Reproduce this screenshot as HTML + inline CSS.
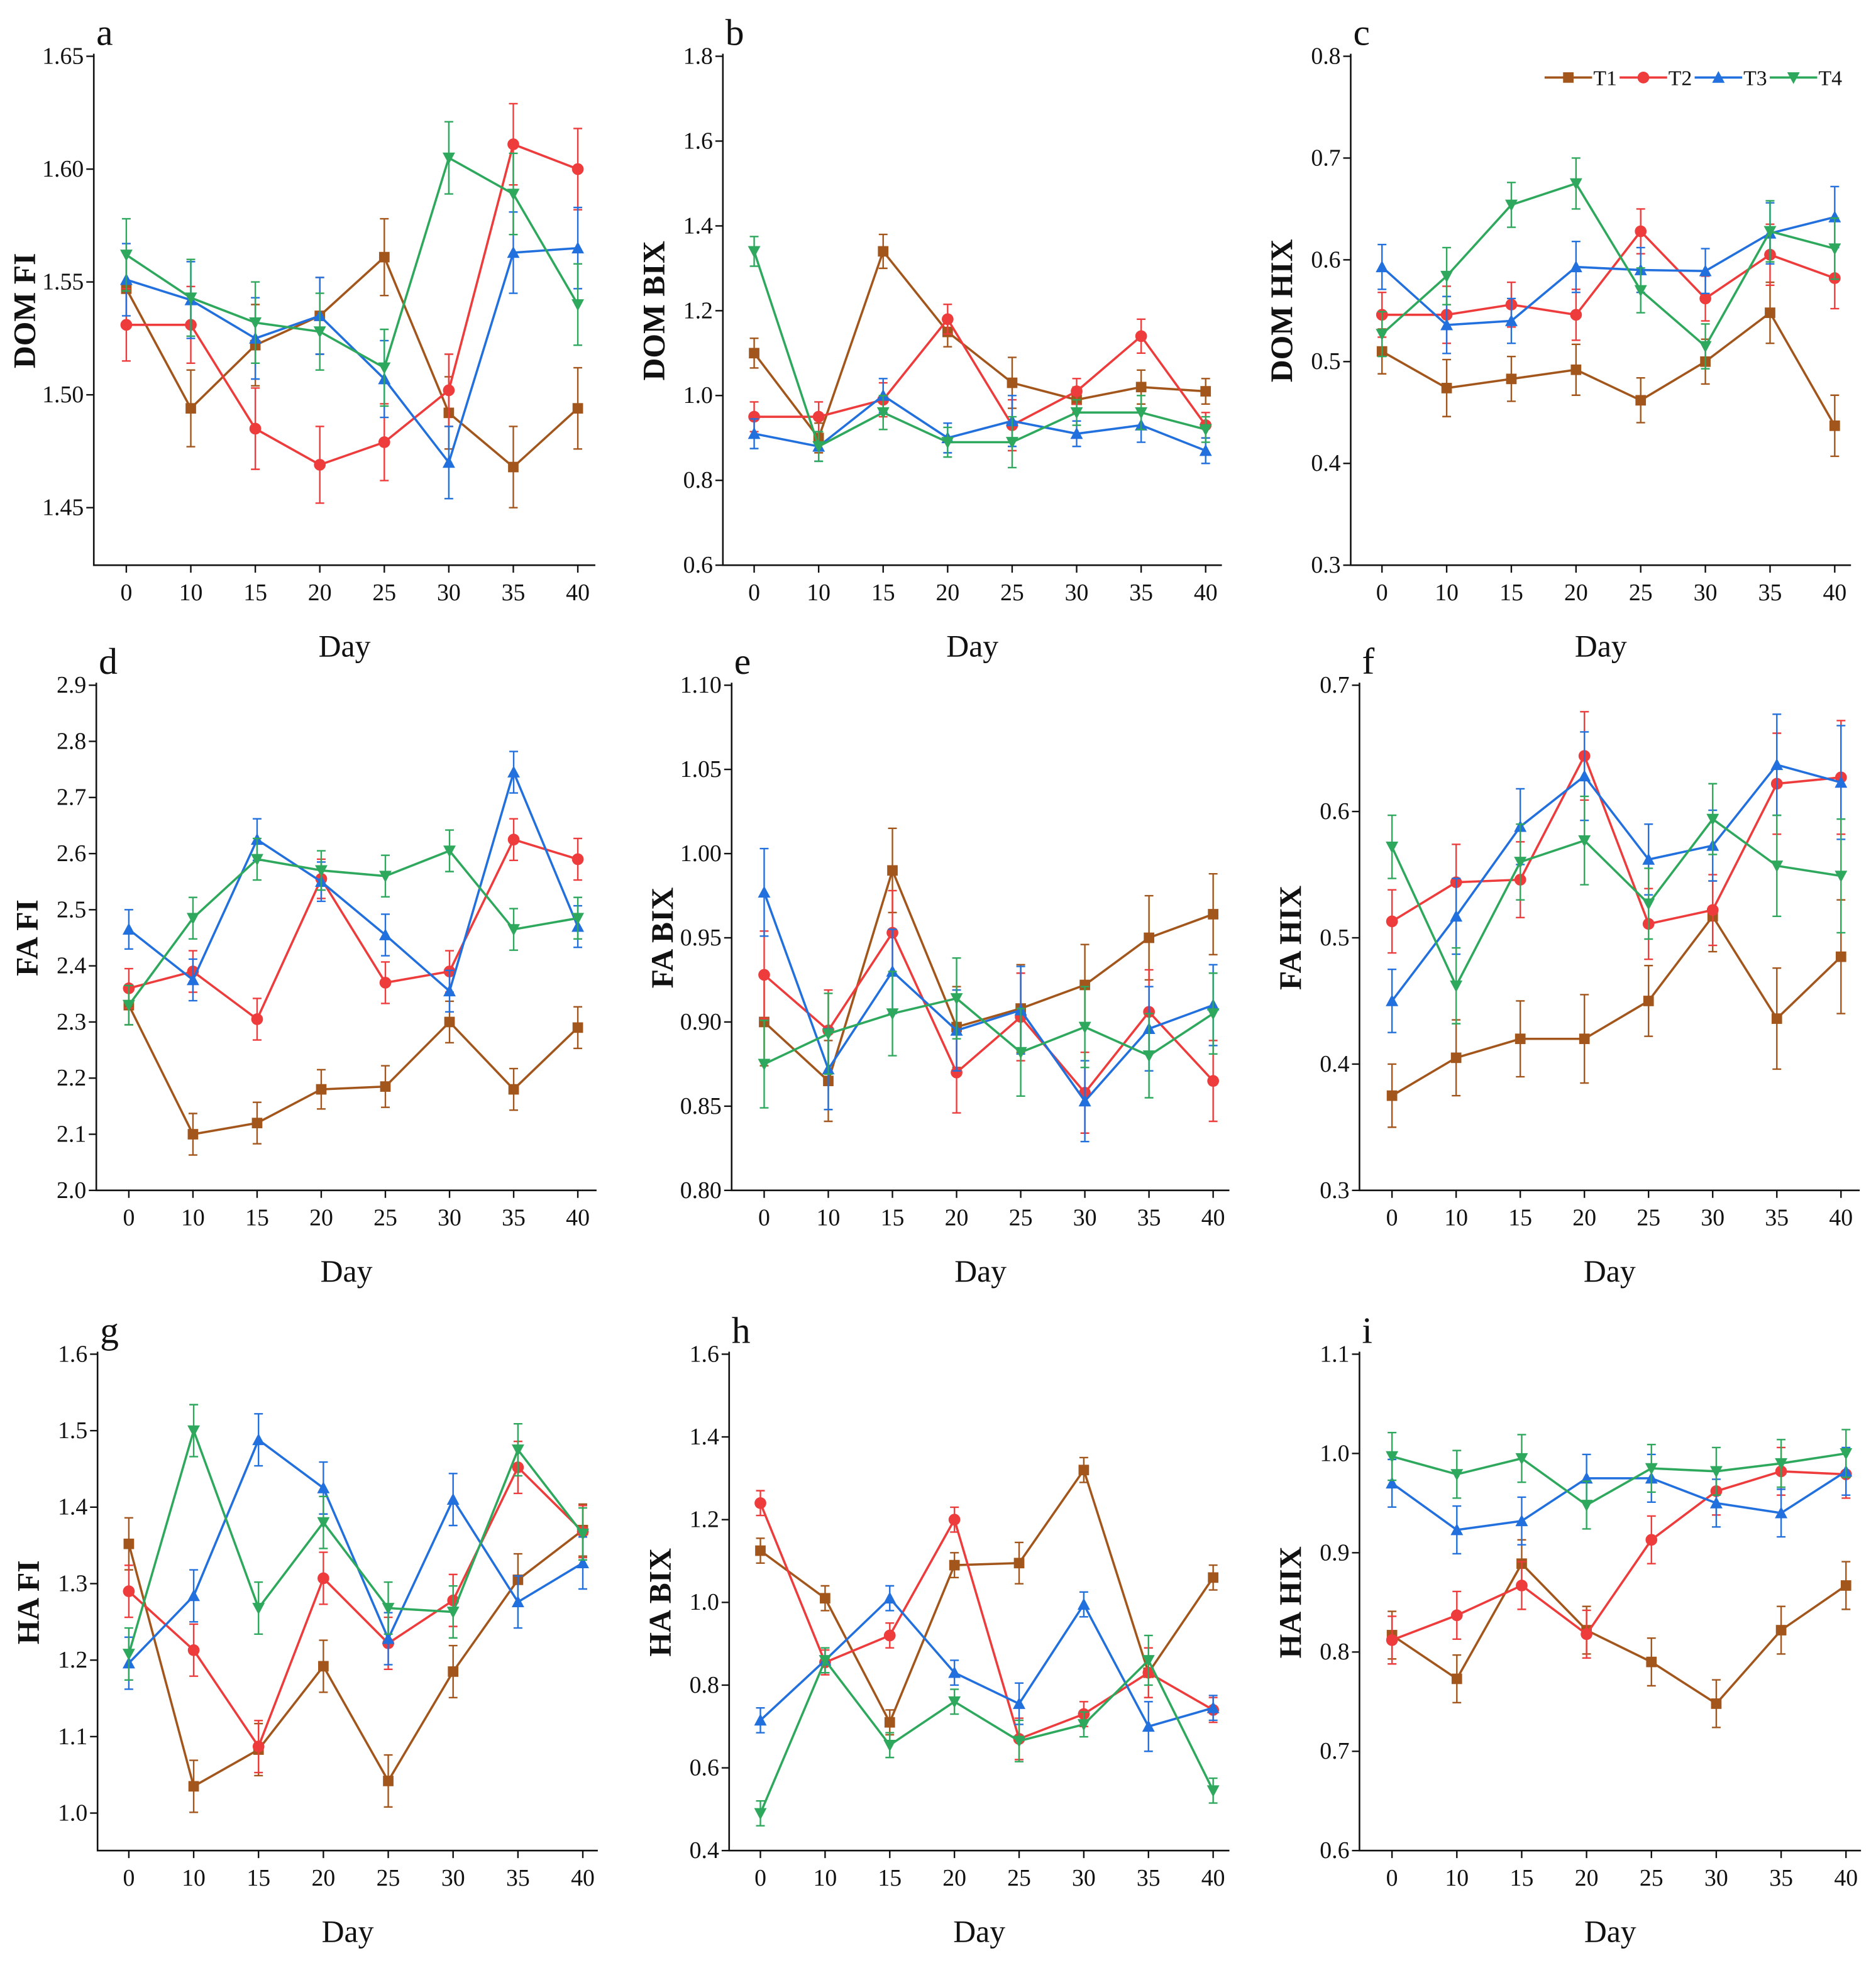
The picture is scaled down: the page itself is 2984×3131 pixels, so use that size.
<!DOCTYPE html>
<html><head><meta charset="utf-8"><style>
html,body{margin:0;padding:0;background:#fff}
svg{display:block}
text{font-family:"Liberation Serif",serif;fill:#111}
</style></head><body>
<svg id="fig" width="2984" height="3131" viewBox="0 0 1500 1573.9" preserveAspectRatio="none" xmlns="http://www.w3.org/2000/svg"></svg>
<script>
const days = ["0","10","15","20","25","30","35","40"];
const seriesNames = ["T1","T2","T3","T4"];
const colors = ["#A3561C","#EE3B3B","#2270DD","#2EA85C"];

const aT1=[1.547,1.494,1.522,1.535,1.561,1.492,1.468,1.494];
const aT2=[1.531,1.531,1.485,1.469,1.479,1.502,1.611,1.600];
const aT3=[1.551,1.542,1.525,1.535,1.507,1.470,1.563,1.565];
const aT4=[1.562,1.543,1.532,1.528,1.512,1.605,1.589,1.540];
const aErr=[0.016,0.017,0.018,0.017,0.017,0.016,0.018,0.018];

const bT1=[1.10,0.90,1.34,1.15,1.03,0.99,1.02,1.01];
const bT2=[0.95,0.95,0.99,1.18,0.93,1.01,1.14,0.93];
const bT3=[0.91,0.88,1.00,0.90,0.94,0.91,0.93,0.87];
const bT4=[1.34,0.88,0.96,0.89,0.89,0.96,0.96,0.92];
const bErr=[0.035,0.035,0.04,0.035,0.06,0.03,0.04,0.03];

const cT1=[0.510,0.474,0.483,0.492,0.462,0.500,0.548,0.437];
const cT2=[0.546,0.546,0.556,0.546,0.628,0.562,0.605,0.582];
const cT3=[0.593,0.536,0.540,0.593,0.590,0.589,0.626,0.642];
const cT4=[0.527,0.584,0.654,0.675,0.570,0.515,0.628,0.611];
const cErr=[0.022,0.028,0.022,0.025,0.022,0.022,0.03,0.03];

const dT1=[2.33,2.10,2.12,2.18,2.185,2.30,2.18,2.29];
const dT2=[2.36,2.39,2.305,2.555,2.37,2.39,2.625,2.59];
const dT3=[2.465,2.375,2.625,2.55,2.455,2.355,2.745,2.47];
const dT4=[2.33,2.485,2.59,2.57,2.56,2.605,2.465,2.485];
const dErr=[0.035,0.037,0.037,0.035,0.037,0.037,0.037,0.037];

const eT1=[0.900,0.865,0.990,0.897,0.908,0.922,0.950,0.964];
const eT2=[0.928,0.895,0.953,0.870,0.903,0.858,0.906,0.865];
const eT3=[0.977,0.872,0.930,0.895,0.907,0.853,0.896,0.910];
const eT4=[0.875,0.893,0.905,0.914,0.882,0.897,0.880,0.905];
const eErr=[0.026,0.024,0.025,0.024,0.026,0.024,0.025,0.024];

const fT1=[0.375,0.405,0.420,0.420,0.450,0.517,0.436,0.485];
const fT2=[0.513,0.544,0.546,0.644,0.511,0.522,0.622,0.627];
const fT3=[0.450,0.517,0.588,0.628,0.562,0.573,0.637,0.623];
const fT4=[0.572,0.462,0.560,0.577,0.527,0.594,0.557,0.549];
const fErr=[0.025,0.03,0.03,0.035,0.028,0.028,0.04,0.045];

const gT1=[1.352,1.035,1.083,1.192,1.042,1.185,1.305,1.370];
const gT2=[1.290,1.213,1.087,1.307,1.222,1.278,1.452,1.368];
const gT3=[1.196,1.284,1.488,1.425,1.228,1.410,1.276,1.327];
const gT4=[1.208,1.500,1.268,1.380,1.268,1.263,1.475,1.365];
const gErr=[0.034,0.034,0.034,0.034,0.034,0.034,0.034,0.034];

const hT1=[1.125,1.010,0.710,1.090,1.095,1.320,0.830,1.060];
const hT2=[1.240,0.855,0.920,1.200,0.670,0.730,0.830,0.740];
const hT3=[0.715,0.860,1.010,0.830,0.755,0.995,0.700,0.745];
const hT4=[0.490,0.860,0.655,0.760,0.665,0.705,0.860,0.545];
const hErr=[0.03,0.03,0.03,0.03,0.05,0.03,0.06,0.03];

const iT1=[0.817,0.773,0.889,0.822,0.790,0.748,0.822,0.867];
const iT2=[0.812,0.837,0.867,0.818,0.913,0.962,0.982,0.979];
const iT3=[0.970,0.923,0.932,0.975,0.975,0.950,0.940,0.982];
const iT4=[0.997,0.979,0.995,0.948,0.985,0.982,0.990,1.000];
const iErr=[0.024,0.024,0.024,0.024,0.024,0.024,0.024,0.024];

const yTicksA=["1.45","1.50","1.55","1.60","1.65"];
const yTicksB=["0.6","0.8","1.0","1.2","1.4","1.6","1.8"];
const yTicksC=["0.3","0.4","0.5","0.6","0.7","0.8"];
const yTicksD=["2.0","2.1","2.2","2.3","2.4","2.5","2.6","2.7","2.8","2.9"];
const yTicksE=["0.80","0.85","0.90","0.95","1.00","1.05","1.10"];
const yTicksF=["0.3","0.4","0.5","0.6","0.7"];
const yTicksG=["1.0","1.1","1.2","1.3","1.4","1.5","1.6"];
const yTicksH=["0.4","0.6","0.8","1.0","1.2","1.4","1.6"];
const yTicksI=["0.6","0.7","0.8","0.9","1.0","1.1"];

// layout (display units)
const panels=[
 {id:"a",yl:"DOM FI",L:75,R:476,vT:1.65,pT:45,vB:1.45,pB:406,bot:452,x0:101,x1:462,ticks:yTicksA,d:[aT1,aT2,aT3,aT4],e:aErr},
 {id:"b",yl:"DOM BIX",L:578,R:977,vT:1.8,pT:45,vB:0.6,pB:452,bot:452,x0:603,x1:964,ticks:yTicksB,d:[bT1,bT2,bT3,bT4],e:bErr},
 {id:"c",yl:"DOM HIX",L:1080,R:1480,vT:0.8,pT:45,vB:0.3,pB:452,bot:452,x0:1105,x1:1467,ticks:yTicksC,d:[cT1,cT2,cT3,cT4],e:cErr},
 {id:"d",yl:"FA FI",L:77,R:477,vT:2.9,pT:548,vB:2.0,pB:952,bot:952,x0:103,x1:462,ticks:yTicksD,d:[dT1,dT2,dT3,dT4],e:dErr},
 {id:"e",yl:"FA BIX",L:585,R:983,vT:1.10,pT:548,vB:0.80,pB:952,bot:952,x0:611,x1:970,ticks:yTicksE,d:[eT1,eT2,eT3,eT4],e:eErr},
 {id:"f",yl:"FA HIX",L:1087,R:1487,vT:0.7,pT:548,vB:0.3,pB:952,bot:952,x0:1113,x1:1472,ticks:yTicksF,d:[fT1,fT2,fT3,fT4],e:fErr},
 {id:"g",yl:"HA FI",L:78,R:478,vT:1.6,pT:1083,vB:1.0,pB:1450,bot:1480,x0:103,x1:466,ticks:yTicksG,d:[gT1,gT2,gT3,gT4],e:gErr},
 {id:"h",yl:"HA BIX",L:583,R:983,vT:1.6,pT:1083,vB:0.4,pB:1480,bot:1480,x0:608,x1:970,ticks:yTicksH,d:[hT1,hT2,hT3,hT4],e:hErr},
 {id:"i",yl:"HA HIX",L:1087,R:1488,vT:1.1,pT:1083,vB:0.6,pB:1480,bot:1480,x0:1113,x1:1476,ticks:yTicksI,d:[iT1,iT2,iT3,iT4],e:iErr}
];
const NS="http://www.w3.org/2000/svg";
const svg=document.getElementById("fig");
function mk(tag,attrs,parent){const el=document.createElementNS(NS,tag);for(const k in attrs)el.setAttribute(k,attrs[k]);(parent||svg).appendChild(el);return el;}
function marker(g,k,x,y,c){
 const s=4.2;
 if(k===0)return mk("rect",{x:x-s,y:y-s,width:2*s,height:2*s,fill:c},g);
 if(k===1)return mk("circle",{cx:x,cy:y,r:s+0.5,fill:c},g);
 if(k===2)return mk("polygon",{points:`${x},${y-s-1} ${x-s-0.8},${y+s} ${x+s+0.8},${y+s}`,fill:c},g);
 return mk("polygon",{points:`${x},${y+s+1} ${x-s-0.8},${y-s} ${x+s+0.8},${y-s}`,fill:c},g);
}
panels.forEach(p=>{
 const g=mk("g",{});
 
 
 const ys=v=>p.pT+(v-p.vT)/(p.vB-p.vT)*(p.pB-p.pT);
 const xs=i=>p.x0+i*(p.x1-p.x0)/(days.length-1);
 // axes
 const ax=mk("path",{d:`M${p.L},${p.pT-2}V${p.bot}H${p.R}`,stroke:"#111","stroke-width":1.3,fill:"none"},g);
 
 
 p.ticks.forEach(t=>{
  const y=ys(parseFloat(t));
  mk("line",{x1:p.L-6,x2:p.L,y1:y,y2:y,stroke:"#111","stroke-width":1.2},g);
  const tx=mk("text",{x:p.L-8,y:y+6,"text-anchor":"end","font-size":19},g);
  tx.textContent=t;
  
  
 });
 days.forEach((d,i)=>{
  const x=xs(i);
  mk("line",{x1:x,x2:x,y1:p.bot,y2:p.bot+6,stroke:"#111","stroke-width":1.2},g);
  const tx=mk("text",{x:x,y:p.bot+28,"text-anchor":"middle","font-size":19},g);
  tx.textContent=d;
  
  
 });
 const xl=mk("text",{x:(p.L+p.R)/2,y:p.bot+73,"text-anchor":"middle","font-size":25},g);
 xl.textContent="Day";
 
 
 const cy=(p.pT+p.bot)/2, cx=p.L-47;
 const yl=mk("text",{x:cx,y:cy,"text-anchor":"middle","font-size":25,"font-weight":"bold",transform:`rotate(-90 ${cx} ${cy})`},g);
 yl.textContent=p.yl;
 
 
 const lt=mk("text",{x:p.L+2,y:p.pT-9,"font-size":30},g);
 lt.textContent=p.id;
 
 
 p.d.forEach((arr,k)=>{
  const sg=mk("g",{},g);
  
  
  const c=colors[k];
  arr.forEach((v,i)=>{
   const x=xs(i),y1=ys(v+p.e[i]),y2=ys(v-p.e[i]);
   mk("path",{d:`M${x},${y1}V${y2}M${x-3.5},${y1}h7M${x-3.5},${y2}h7`,stroke:c,"stroke-width":1.2,fill:"none"},sg);
  });
  const pts=arr.map((v,i)=>xs(i)+","+ys(v)).join(" ");
  const pl=mk("polyline",{points:pts,fill:"none",stroke:c,"stroke-width":1.8},sg);
  
  
  arr.forEach((v,i)=>{
   const m=marker(sg,k,xs(i),ys(v),c);
   
   
  });
 });
});
// legend
const lg=mk("g",{});


seriesNames.forEach((n,k)=>{
 const x=1235+k*60;
 const eg=mk("g",{},lg);
 
 
 mk("line",{x1:x,x2:x+38,y1:62,y2:62,stroke:colors[k],"stroke-width":1.8},eg);
 marker(eg,k,x+19,62,colors[k]);
 const t=mk("text",{x:x+39,y:68,"font-size":17},eg);
 t.textContent=n;
});
</script>
</body></html>
